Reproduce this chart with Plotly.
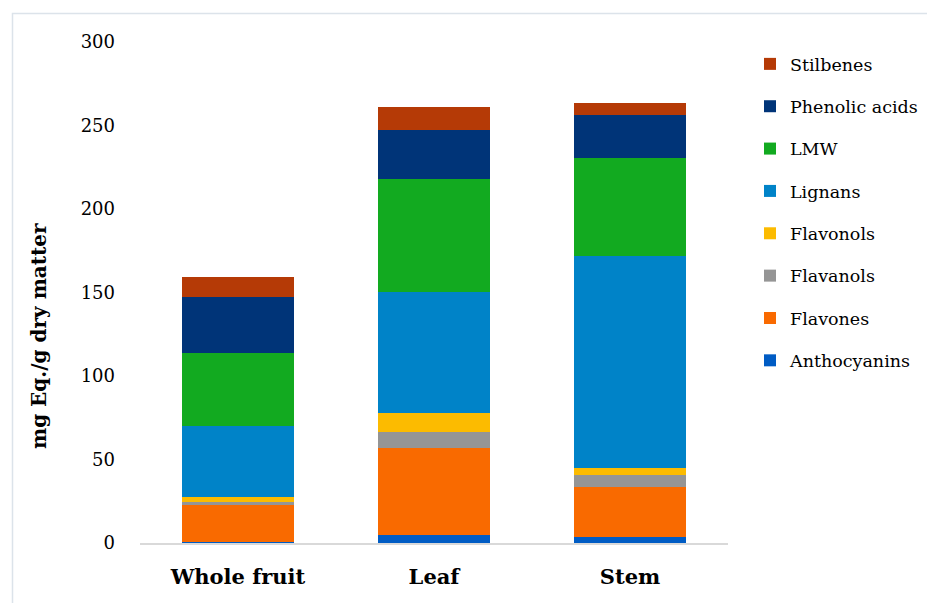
import plotly.graph_objects as go

categories = ["Whole fruit", "Leaf", "Stem"]

anthocyanins = [0.8, 4.8, 3.6]
flavones = [22.0, 52.3, 29.9]
flavanols = [1.8, 9.5, 7.0]
flavonols = [2.9, 11.2, 4.4]
lignans = [42.6, 72.5, 127.0]
lmw = [43.7, 67.7, 58.6]
phenolic_acids = [33.5, 29.5, 25.8]
stilbenes = [12.0, 13.5, 7.2]

series_names = ["Anthocyanins", "Flavones", "Flavanols", "Flavonols",
                "Lignans", "LMW", "Phenolic acids", "Stilbenes"]
series_values = [anthocyanins, flavones, flavanols, flavonols,
                 lignans, lmw, phenolic_acids, stilbenes]
series_colors = ["#005CC4", "#F96A00", "#959595", "#FCBB00",
                 "#0083C8", "#12AA20", "#003478", "#B53A06"]

y_ticks = [0, 50, 100, 150, 200, 250, 300]

FONT = "DejaVu Serif"

fig = go.Figure()
for i, (name, vals, col) in enumerate(zip(series_names, series_values, series_colors)):
    fig.add_trace(go.Bar(
        x=categories, y=vals, name=name, legendgroup=name,
        legendrank=1000 - i,
        marker=dict(color=col, line=dict(width=0)),
    ))

L, R, T, B = 140, 199, 42, 60
W, H = 927, 603
pw, ph = W - L - R, H - T - B

def px_x(p):
    return (p - L) / pw

def px_y(p):
    return (H - B - p) / ph

fig.update_layout(
    width=W, height=H,
    margin=dict(l=L, r=R, t=T, b=B, pad=0, autoexpand=False),
    barmode="stack",
    bargap=0.43,
    paper_bgcolor="white",
    plot_bgcolor="white",
    font=dict(family=FONT, color="#000000"),
    showlegend=True,
    legend=dict(
        x=px_x(750), y=px_y(46), xanchor="left", yanchor="top",
        traceorder="grouped",
        tracegroupgap=16.6,
        font=dict(family=FONT, size=17.5, color="#000000"),
        bgcolor="rgba(0,0,0,0)",
    ),
    xaxis=dict(
        showgrid=False, showline=True, linecolor="#D9D9D9", linewidth=2,
        ticks="", tickfont=dict(family=FONT, size=21, color="#000000", weight="bold"),
        ticklabelstandoff=14,
    ),
    yaxis=dict(
        range=[0, 300], tickvals=y_ticks, showgrid=False, zeroline=False,
        showline=False, ticks="",
        tickfont=dict(family=FONT, size=18, color="#000000"),
        ticklabelstandoff=24,
    ),
    annotations=[dict(
        text="<b>mg Eq./g dry matter</b>", textangle=-90,
        xref="paper", yref="paper", x=px_x(39), y=px_y(336),
        xanchor="center", yanchor="middle", showarrow=False,
        font=dict(family=FONT, size=20, color="#000000"),
    )],
    shapes=[dict(
        type="rect", xref="paper", yref="paper",
        x0=px_x(12.5), x1=px_x(940), y0=px_y(13.5), y1=px_y(620),
        line=dict(color="#DCE3EA", width=1.5), fillcolor="rgba(0,0,0,0)",
        layer="below",
    )],
)

fig.write_html("out.html")
